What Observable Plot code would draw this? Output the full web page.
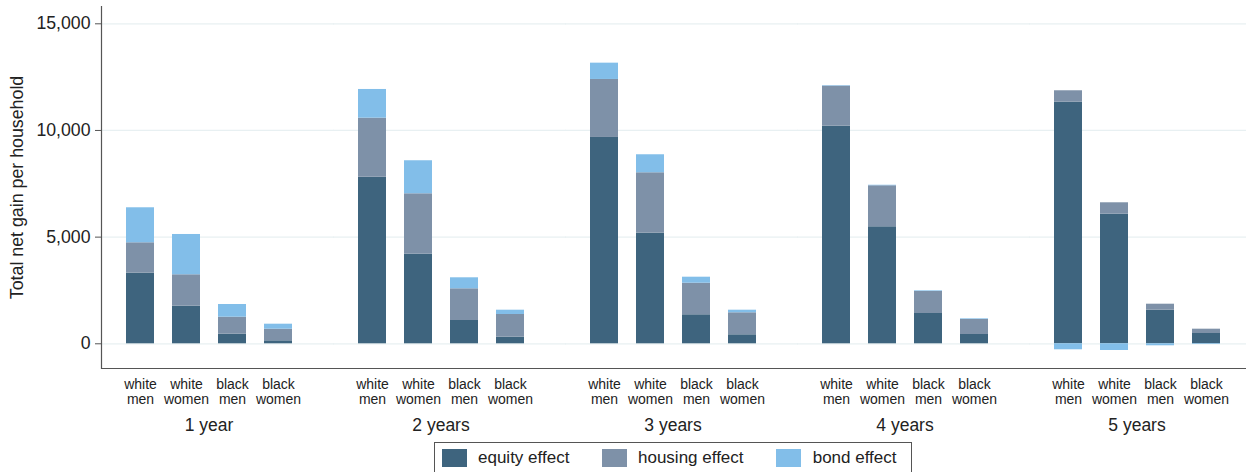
<!DOCTYPE html>
<html>
<head>
<meta charset="utf-8">
<script src="https://cdn.jsdelivr.net/npm/d3@7"></script>
<script src="https://cdn.jsdelivr.net/npm/@observablehq/plot@0.6"></script>
<style>
  html, body { margin: 0; padding: 0; background: #fff; }
  body { font-family: "Liberation Sans", Arial, sans-serif; width: 1246px; height: 472px; overflow: hidden; }
  #chart svg { display: block; }
  #legend { position: relative; margin-left: 434px; margin-top: 2px; width: 476px; height: 40px; border: 1px solid #555; box-sizing: content-box; }
  #legend .sw { position: absolute; top: 6px; width: 25px; height: 18px; }
  #legend .lb { position: absolute; top: 6px; line-height: 18px; font-size: 17px; color: #222; white-space: nowrap; }
</style>
</head>
<body>
<div id="chart"></div>
<div id="legend"></div>
<script>
const years = ["1 year", "2 years", "3 years", "4 years", "5 years"];
const groups = ["white men", "white women", "black men", "black women"];
const effects = ["equity effect", "housing effect", "bond effect"];
const colors = ["#3e647e", "#7e91a8", "#82bee9"];

// values per year (rows) and group (columns)
const equity = [
  [3310, 1763, 450, 140],
  [7811, 4201, 1092, 309],
  [9672, 5185, 1360, 422],
  [10202, 5485, 1420, 436],
  [11327, 6076, 1575, 483]
];
const housing = [
  [1425, 1472, 797, 545],
  [2766, 2831, 1486, 1065],
  [2719, 2832, 1481, 1031],
  [1875, 1922, 1032, 703],
  [534, 534, 281, 202]
];
const bond = [
  [1641, 1889, 595, 234],
  [1345, 1548, 516, 201],
  [764, 844, 281, 122],
  [25, 25, 30, 30],
  [-281, -314, -94, -30]
];
const yTicks = [0, 5000, 10000, 15000];
const yDomain = [-1158, 15811];
const yLabel = "Total net gain per household";

const series = [equity, housing, bond];
const data = [];
years.forEach((year, i) => {
  groups.forEach((group, j) => {
    effects.forEach((effect, k) => {
      data.push({year, group, effect, value: series[k][i][j]});
    });
  });
});

const fxPad = 0.075;
const plotW = 1246 - 100 - 1;
const gap = plotW / (years.length - fxPad) * fxPad;

const chart = Plot.plot({
  width: 1246,
  height: 440,
  marginTop: 6,
  marginBottom: 72,
  marginLeft: 100,
  marginRight: 1,
  style: {fontFamily: "'Liberation Sans', Arial, sans-serif", background: "#fff", color: "#222"},
  fx: {domain: years, paddingInner: fxPad, paddingOuter: 0, label: null},
  x: {domain: groups, paddingInner: 0.4, paddingOuter: 0.512, label: null},
  y: {domain: yDomain, label: null},
  color: {domain: effects, range: colors},
  marks: [
    Plot.ruleY(yTicks, {stroke: "#e8f0f2", strokeWidth: 1.2, insetRight: -gap - 0.5}),
    Plot.barY(data, {fx: "year", x: "group", y: "value", fill: "effect"}),
    Plot.ruleY([yDomain[0]], {stroke: "#555", strokeWidth: 1.2, insetRight: -gap - 0.5}),
    Plot.frame({anchor: "left", stroke: "#555", strokeWidth: 1.2, facet: "super"}),
    Plot.text([yLabel], {text: d => d, frameAnchor: "left", textAnchor: "middle", rotate: -90, dx: -84, fontSize: 17.8, fill: "#222", facet: "super"}),
    Plot.axisY(yTicks, {
      tickSize: 6, tickPadding: 5, tickFormat: d3.format(","), fontSize: 17.7,
      stroke: "#555", fill: "#222", label: null
    }),
    Plot.axisX({
      tickSize: 0, tickPadding: 10, fontSize: 14, lineHeight: 1.05, fill: "#222",
      tickFormat: d => d.replace(" ", "\n"), label: null
    }),
    Plot.axisFx({anchor: "bottom", tickSize: 0, tickPadding: 50, fontSize: 17.5, fill: "#222", label: null})
  ]
});
document.getElementById("chart").appendChild(chart);

const legend = document.getElementById("legend");
const swLeft = [6.7, 166.7, 341];
const lbLeft = [43, 203, 377.7];
effects.forEach((e, k) => {
  const sw = document.createElement("div");
  sw.className = "sw";
  sw.style.left = swLeft[k] + "px";
  sw.style.background = colors[k];
  legend.appendChild(sw);
  const lb = document.createElement("div");
  lb.className = "lb";
  lb.style.left = lbLeft[k] + "px";
  lb.textContent = e;
  legend.appendChild(lb);
});
</script>
</body>
</html>
